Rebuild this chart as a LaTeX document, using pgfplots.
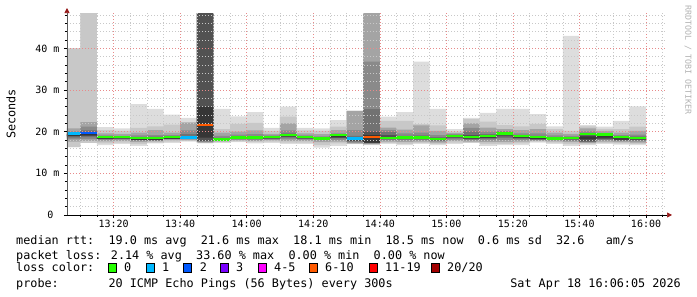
\documentclass[border=0pt]{standalone}
\usepackage{fontspec}
\usepackage{pgfplots}
\usepackage{pgfplotstable}
\usepgfplotslibrary{fillbetween}
\usetikzlibrary{arrows.meta}
\pgfplotsset{compat=1.18}
\newfontfamily\monof{DejaVu Sans Mono}
\newcommand\ticfont{\monof\fontsize{10}{12}\selectfont}
\newcommand\legfont{\monof\fontsize{11.8}{14}\selectfont}
\newcommand\tinyfont{\monof\fontsize{8.3}{10}\selectfont}
\definecolor{s1}{HTML}{DDDDDD}
\definecolor{s2}{HTML}{C8C8C8}
\definecolor{s3}{HTML}{A4A4A4}
\definecolor{s4}{HTML}{8A8A8A}
\definecolor{s5}{HTML}{727272}
\definecolor{s6}{HTML}{525252}
\definecolor{s7}{HTML}{363636}
\definecolor{lc0}{HTML}{26FF00}
\definecolor{lc1}{HTML}{00B8FF}
\definecolor{lc2}{HTML}{0059FF}
\definecolor{lc3}{HTML}{7A00FF}
\definecolor{lc4}{HTML}{FF00FF}
\definecolor{lc5}{HTML}{FF5A00}
\definecolor{lc6}{HTML}{FF0000}
\definecolor{lc7}{HTML}{A10000}
\definecolor{gridred}{HTML}{E88A8A}
\definecolor{gridgray}{HTML}{C8C8C8}
\definecolor{arrowred}{HTML}{961A1A}
\pgfplotstableread{
x   l1   h1   l2   h2   l3   h3   l4   h4   l5   h5   l6   h6   l7    h7    med
6   16.3 40.0 16.3 40.0 17.6 20.8 18.2 20.1 18.6 19.6 18.9 19.4 19.0  19.3  19.6
10  17.3 48.5 17.3 48.5 17.8 22.3 18.3 21.2 18.7 20.3 19.0 19.8 19.1  19.5  19.7
15  16.8 21.1 17.2 20.4 17.7 19.6 18.0 19.1 18.2 18.8 18.3 18.6 18.35 18.5  18.7
20  17.1 20.8 17.4 20.2 17.8 19.5 18.1 19.0 18.3 18.8 18.4 18.6 18.4  18.5  18.7
25  16.6 26.6 17.0 20.9 17.5 19.8 17.9 19.1 18.0 18.6 18.0 18.4 18.05 18.3  18.5
30  17.2 25.5 17.4 21.3 17.7 20.4 17.9 19.2 18.0 18.8 18.0 18.4 18.0  18.25 18.45
35  17.3 24.1 17.6 21.7 18.0 19.8 18.2 19.2 18.3 18.8 18.3 18.6 18.35 18.5  18.7
40  17.6 23.3 17.8 22.3 18.0 22.2 18.2 20.3 18.3 19.4 18.4 18.9 18.4  18.6  18.6
45  17.2 48.5 17.3 48.5 17.4 48.5 17.6 48.5 17.7 48.5 17.8 48.5 18.6  26.0  21.6
50  17.3 25.5 17.5 20.6 17.7 19.8 17.8 19.0 17.8 18.5 17.85 18.3 17.85 18.1 18.1
55  17.5 23.7 17.7 21.9 17.9 20.0 18.1 19.3 18.2 18.9 18.3 18.6 18.35 18.5  18.6
60  17.2 24.7 17.5 22.1 17.8 20.3 18.0 19.4 18.2 18.9 18.3 18.6 18.35 18.5  18.6
65  17.3 20.9 17.6 20.2 17.9 19.5 18.1 19.1 18.3 18.8 18.4 18.6 18.45 18.55 18.7
70  17.1 26.0 17.4 23.6 17.8 22.0 18.2 20.3 18.6 19.6 18.8 19.2 18.85 19.0  19.2
75  17.1 20.9 17.4 20.3 17.8 19.6 18.1 19.1 18.3 18.8 18.4 18.6 18.45 18.55 18.7
80  16.2 20.8 16.8 20.2 17.5 19.4 17.9 18.9 18.1 18.6 18.2 18.4 18.2  18.3  18.4
85  16.6 22.8 17.2 21.2 17.6 20.4 18.0 19.6 18.4 19.2 18.6 19.0 18.65 18.95 19.2
90  17.0 25.0 17.1 25.0 17.2 25.0 17.4 20.4 17.6 19.0 17.8 18.6 17.9  18.2  18.4
95  16.8 48.5 16.9 48.5 17.0 48.5 17.2 36.8 17.25 25.4 17.3 20.0 17.4 19.2  18.7
100 17.1 23.6 17.3 22.6 17.6 21.0 17.9 20.4 18.1 19.9 18.3 19.2 18.35 18.6  18.5
105 16.8 24.7 17.1 22.6 17.5 20.5 17.9 19.6 18.1 19.0 18.3 18.7 18.35 18.55 18.6
110 17.1 36.8 17.3 21.8 17.6 21.5 17.9 19.8 18.1 19.1 18.3 18.8 18.35 18.55 18.6
115 16.8 25.5 17.1 21.5 17.4 20.2 17.7 19.2 17.9 18.7 18.0 18.3 18.0  18.15 18.2
120 17.1 20.6 17.4 20.1 17.8 19.7 18.1 19.4 18.4 19.2 18.6 19.1 18.9  19.15 18.9
125 17.3 23.3 17.4 23.0 17.6 22.0 17.9 20.9 18.1 20.0 18.3 19.2 18.4  18.6  18.7
130 16.6 24.5 17.0 22.4 17.5 21.0 17.9 20.0 18.3 19.4 18.5 19.0 18.6  18.8  19.0
135 16.8 25.5 17.1 21.6 17.5 20.6 18.0 20.1 18.5 19.8 18.9 19.6 19.6  19.95 19.6
140 16.8 25.5 17.2 21.3 17.6 20.4 18.0 19.6 18.3 19.2 18.5 19.0 18.6  18.8  19.0
145 17.4 24.2 17.6 21.9 17.8 20.6 18.0 19.6 18.1 19.0 18.2 18.6 18.2  18.45 18.7
150 17.1 21.3 17.4 20.6 17.7 19.8 17.9 19.1 18.1 18.7 18.2 18.5 18.25 18.35 18.4
155 16.6 43.0 17.0 20.2 17.5 19.5 17.8 19.0 18.0 18.7 18.2 18.5 18.25 18.35 18.5
160 16.8 21.6 17.0 21.3 17.3 20.8 17.5 20.1 17.6 19.6 17.7 19.1 18.2  18.9  19.4
165 17.1 21.2 17.3 20.7 17.6 20.2 17.9 19.7 18.1 19.4 18.3 19.1 18.6  19.0  19.3
170 16.9 22.6 17.2 20.6 17.5 19.8 17.8 19.2 17.9 18.8 18.0 18.5 18.1  18.4  18.7
175 16.8 26.1 17.1 21.2 17.4 20.2 17.7 19.3 17.9 18.9 18.1 18.6 18.15 18.3  18.5
180 16.8 26.1 17.1 21.2 17.4 20.2 17.7 19.3 17.9 18.9 18.1 18.6 18.15 18.3  18.5
}\smoke
\begin{document}
\begin{tikzpicture}
\begin{axis}[
  scale only axis, width=599pt, height=202pt,
  anchor=south west, at={(0pt,0pt)},
  xmin=6, xmax=186, ymin=0, ymax=48.5,
  axis lines=left, axis on top,
  x axis line style={black, line width=0.7pt, -{Triangle[length=5pt,width=5pt,color=arrowred]}, shorten >=-6pt},
  y axis line style={black!65, line width=0.7pt, -{Triangle[length=5pt,width=5pt,color=arrowred]}, shorten >=-5pt},
  xtick={20,40,60,80,100,120,140,160,180},
  xticklabels={13:20,13:40,14:00,14:20,14:40,15:00,15:20,15:40,16:00},
  minor xtick={10,15,25,30,35,45,50,55,65,70,75,85,90,95,105,110,115,125,130,135,145,150,155,165,170,175,185},
  ytick={0,10,20,30,40},
  yticklabels={0\hphantom{m},10 m,20 m,30 m,40 m},
  minor ytick={2,4,6,8,12,14,16,18,22,24,26,28,32,34,36,38,42,44,46,48},
  grid=both,
  major grid style={draw=gridred, line width=0.5pt, dash pattern=on 1pt off 2pt},
  minor grid style={draw=gridgray, line width=0.5pt, dash pattern=on 1pt off 2pt},
  tick align=outside, major tick length=3pt, minor tick length=2pt,
  tick style={black, line width=0.5pt},
  ticklabel style={font=\ticfont},
  xticklabel style={yshift=1pt},
  yticklabel style={xshift=-1pt},
]
\pgfplotsinvokeforeach{1,2,3,4,5,6,7}{
  \addplot[const plot, draw=none, name path=h#1, forget plot] table[x=x,y=h#1]{\smoke};
  \addplot[const plot, draw=none, name path=l#1, forget plot] table[x=x,y=l#1]{\smoke};
  \addplot[fill=s#1, draw=none, forget plot] fill between[of=h#1 and l#1];
}
\addplot[jump mark left, line width=2.4pt, color=lc0, forget plot] table[x=x,y=med]{\smoke};
\addplot[lc1, line width=2.4pt, forget plot] coordinates {(6,19.6)(10,19.6)};
\addplot[lc2, line width=2.4pt, forget plot] coordinates {(10,19.7)(15,19.7)};
\addplot[lc1, line width=2.4pt, forget plot] coordinates {(40,18.6)(45,18.6)};
\addplot[lc5, line width=2.4pt, forget plot] coordinates {(45,21.6)(50,21.6)};
\addplot[lc1, line width=2.4pt, forget plot] coordinates {(90,18.4)(95,18.4)};
\addplot[lc5, line width=2.4pt, forget plot] coordinates {(95,18.7)(100,18.7)};
\end{axis}
\node[rotate=90, font=\legfont] at (-56pt,101pt) {Seconds};
\node[rotate=-90, font=\tinyfont, text=black!30] at (621pt,155pt) {RRDTOOL / TOBI OETIKER};
\begin{scope}[every node/.style={anchor=base west, inner sep=0pt, font=\legfont}]
\node at (-51pt,-30pt) {median rtt:\ \ 19.0 ms avg\ \ 21.6 ms max\ \ 18.1 ms min\ \ 18.5 ms now\ \ 0.6 ms sd\ \ 32.6\ \ \ am/s};
\node at (-51pt,-45pt) {packet loss: 2.14 \% avg\ \ 33.60 \% max\ \ 0.00 \% min\ \ 0.00 \% now};
\node at (-51pt,-57pt) {loss color:};
\node at (-51pt,-73pt) {probe:\ \ \ \ \ \ \ 20 ICMP Echo Pings (56 Bytes) every 300s};
\node[anchor=base east] at (614pt,-73pt) {Sat Apr 18 16:06:05 2026};
\node at (57pt,-57pt) {0};
\node at (95pt,-57pt) {1};
\node at (132.6pt,-57pt) {2};
\node at (169pt,-57pt) {3};
\node at (207pt,-57pt) {4-5};
\node at (258pt,-57pt) {6-10};
\node at (318pt,-57pt) {11-19};
\node at (380pt,-57pt) {20/20};
\end{scope}
\begin{scope}[line width=0.6pt]
\draw[fill=lc0] (41pt,-57.5pt) rectangle ++(8pt,9pt);
\draw[fill=lc1] (79pt,-57.5pt) rectangle ++(8pt,9pt);
\draw[fill=lc2] (116.6pt,-57.5pt) rectangle ++(8pt,9pt);
\draw[fill=lc3] (153pt,-57.5pt) rectangle ++(8pt,9pt);
\draw[fill=lc4] (191pt,-57.5pt) rectangle ++(8pt,9pt);
\draw[fill=lc5] (242pt,-57.5pt) rectangle ++(8pt,9pt);
\draw[fill=lc6] (302pt,-57.5pt) rectangle ++(8pt,9pt);
\draw[fill=lc7] (364pt,-57.5pt) rectangle ++(8pt,9pt);
\end{scope}
\pgfresetboundingbox
\path[use as bounding box] (-67pt,-82pt) rectangle (630pt,215pt);
\end{tikzpicture}
\end{document}
